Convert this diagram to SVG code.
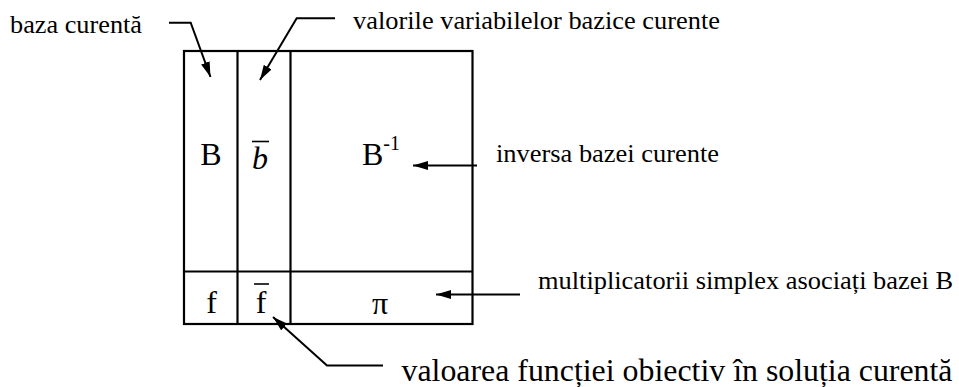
<svg xmlns="http://www.w3.org/2000/svg" width="959" height="387" viewBox="0 0 959 387">
<style>
.ln{stroke:#000;stroke-width:2;fill:none}
.bx{stroke:#000;stroke-width:2.2;fill:none}
.t{font-family:"Liberation Serif","Times New Roman",serif;fill:#000}
.lbl{font-size:25px}
.sym{font-size:32px;text-anchor:middle}
</style>
<defs>
<marker id="ah" markerUnits="userSpaceOnUse" markerWidth="16" markerHeight="10" refX="15" refY="4.5" orient="auto" viewBox="0 0 16 10">
<path d="M0,0 L15,4.5 L0,9 z" fill="#000"/>
</marker>
</defs>
<rect width="959" height="387" fill="#fff"/>
<g id="tableau">
<rect class="bx" x="184" y="51" width="288.5" height="273"/>
<line class="bx" x1="237.5" y1="51" x2="237.5" y2="324"/>
<line class="bx" x1="290.5" y1="51" x2="290.5" y2="324"/>
<line class="bx" x1="184" y1="271.5" x2="472.5" y2="271.5"/>
</g>
<g id="cell-B"><text class="t sym" x="211" y="165">B</text></g>
<g id="cell-bbar"><text class="t sym" x="260" y="169" font-style="italic">b</text><line x1="252" y1="141.5" x2="269" y2="141.5" stroke="#000" stroke-width="1.6"/></g>
<g id="cell-Binv"><text class="t sym" x="381" y="165">B<tspan font-size="20" dy="-15">-1</tspan></text></g>
<g id="cell-f"><text class="t sym" x="211.5" y="313">f</text></g>
<g id="cell-fbar"><text class="t sym" x="261" y="313">f</text><line x1="254" y1="284" x2="269" y2="284" stroke="#000" stroke-width="1.6"/></g>
<g id="cell-pi"><text class="t sym" x="380" y="314">π</text></g>
<g id="label-baza"><text class="t lbl" x="10" y="33" textLength="132" lengthAdjust="spacingAndGlyphs">baza curentă</text></g>
<g id="label-valorile"><text class="t lbl" x="353" y="28.5" textLength="367" lengthAdjust="spacingAndGlyphs">valorile variabilelor bazice curente</text></g>
<g id="label-inversa"><text class="t lbl" x="496" y="162" textLength="223" lengthAdjust="spacingAndGlyphs">inversa bazei curente</text></g>
<g id="label-multiplicatorii"><text class="t lbl" x="538" y="289" textLength="415" lengthAdjust="spacingAndGlyphs">multiplicatorii simplex asociați bazei B</text></g>
<g id="label-valoarea"><text class="t" font-size="32" x="401.5" y="381" textLength="551" lengthAdjust="spacingAndGlyphs">valoarea funcției obiectiv în soluția curentă</text></g>
<g id="connectors">
<polyline class="ln" points="169,22.7 190.7,22.7 210.5,77" marker-end="url(#ah)"/>
<polyline class="ln" points="335,18.3 296.7,18.3 260,80" marker-end="url(#ah)"/>
<line class="ln" x1="477" y1="165.5" x2="413" y2="165.5" marker-end="url(#ah)"/>
<line class="ln" x1="520" y1="294.5" x2="436" y2="294.5" marker-end="url(#ah)"/>
<polyline class="ln" points="383,365.5 327,365.5 273,317" marker-end="url(#ah)"/>
</g>
</svg>
